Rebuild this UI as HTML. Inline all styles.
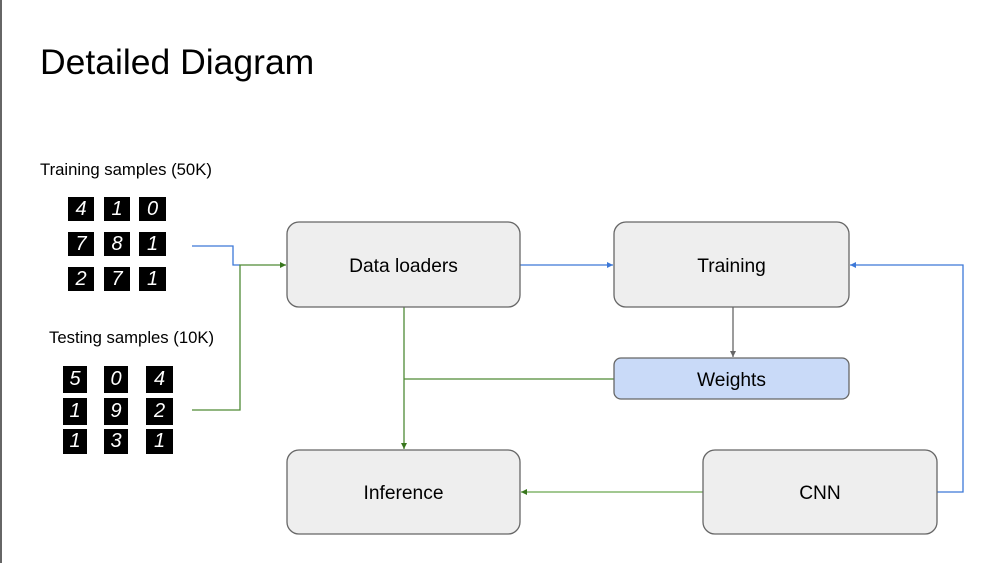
<!DOCTYPE html>
<html><head><meta charset="utf-8"><style>
html,body{margin:0;padding:0;background:#fff;}
body{width:1001px;height:563px;overflow:hidden;position:relative;font-family:"Liberation Sans",sans-serif;}
.t{position:absolute;color:#000;white-space:nowrap;}
.sq{position:absolute;background:#000;color:#fff;font-family:"Liberation Sans",sans-serif;font-style:italic;text-align:center;font-size:20px;}
</style></head><body>
<div style="position:absolute;left:0;top:0;width:2px;height:563px;background:#666"></div>
<div class="t" style="left:40px;top:42px;font-size:35.5px;">Detailed Diagram</div>
<div class="t" style="left:40px;top:160px;font-size:16.7px;">Training samples (50K)</div>
<div class="t" style="left:49px;top:328px;font-size:16.7px;">Testing samples (10K)</div>

<div class="sq" style="left:68px;top:197px;width:26px;height:24px;line-height:24px;">4</div>
<div class="sq" style="left:104px;top:197px;width:26px;height:24px;line-height:24px;">1</div>
<div class="sq" style="left:139px;top:197px;width:27px;height:24px;line-height:24px;">0</div>
<div class="sq" style="left:68px;top:232px;width:26px;height:24px;line-height:24px;">7</div>
<div class="sq" style="left:104px;top:232px;width:26px;height:24px;line-height:24px;">8</div>
<div class="sq" style="left:139px;top:232px;width:27px;height:24px;line-height:24px;">1</div>
<div class="sq" style="left:68px;top:267px;width:26px;height:24px;line-height:24px;">2</div>
<div class="sq" style="left:104px;top:267px;width:26px;height:24px;line-height:24px;">7</div>
<div class="sq" style="left:139px;top:267px;width:27px;height:24px;line-height:24px;">1</div>

<div class="sq" style="left:63px;top:366px;width:24px;height:27px;line-height:27px;">5</div>
<div class="sq" style="left:104px;top:366px;width:24px;height:27px;line-height:27px;">0</div>
<div class="sq" style="left:146px;top:366px;width:27px;height:27px;line-height:27px;">4</div>
<div class="sq" style="left:63px;top:398px;width:24px;height:27px;line-height:27px;">1</div>
<div class="sq" style="left:104px;top:398px;width:24px;height:27px;line-height:27px;">9</div>
<div class="sq" style="left:146px;top:398px;width:27px;height:27px;line-height:27px;">2</div>
<div class="sq" style="left:63px;top:429px;width:24px;height:25px;line-height:25px;">1</div>
<div class="sq" style="left:104px;top:429px;width:24px;height:25px;line-height:25px;">3</div>
<div class="sq" style="left:146px;top:429px;width:27px;height:25px;line-height:25px;">1</div>

<svg width="1001" height="563" style="position:absolute;left:0;top:0" xmlns="http://www.w3.org/2000/svg">
<defs>
<marker id="ab" markerWidth="8" markerHeight="8" refX="6" refY="3" orient="auto" markerUnits="userSpaceOnUse"><path d="M0,0 L6,3 L0,6z" fill="#3c78d8"/></marker>
<marker id="ag" markerWidth="8" markerHeight="8" refX="6" refY="3" orient="auto" markerUnits="userSpaceOnUse"><path d="M0,0 L6,3 L0,6z" fill="#38761d"/></marker>
<marker id="ay" markerWidth="8" markerHeight="8" refX="6" refY="3" orient="auto" markerUnits="userSpaceOnUse"><path d="M0,0 L6,3 L0,6z" fill="#666"/></marker>
</defs>
<g fill="none" stroke-width="1.3">
<polyline points="192,246 233,246 233,265 240,265" stroke="#3c78d8"/>
<polyline points="192,410 240,410 240,265 286,265" stroke="#4f8a35" marker-end="url(#ag)"/>
<line x1="520" y1="265" x2="613" y2="265" stroke="#3c78d8" marker-end="url(#ab)"/>
<line x1="733" y1="307" x2="733" y2="357" stroke="#666" marker-end="url(#ay)"/>
<line x1="404" y1="307" x2="404" y2="449" stroke="#4f8a35" marker-end="url(#ag)"/>
<line x1="614" y1="379" x2="404" y2="379" stroke="#4f8a35"/>
<line x1="703" y1="492" x2="521" y2="492" stroke="#6aa84f" marker-end="url(#ag)"/>
<polyline points="937,492 963,492 963,265 850,265" stroke="#3c78d8" marker-end="url(#ab)"/>
</g>
<g stroke="#666" stroke-width="1.3">
<rect x="287" y="222" width="233" height="85" rx="12" fill="#eeeeee"/>
<rect x="614" y="222" width="235" height="85" rx="12" fill="#eeeeee"/>
<rect x="614" y="358" width="235" height="41" rx="7" fill="#c9daf8"/>
<rect x="287" y="450" width="233" height="84" rx="12" fill="#eeeeee"/>
<rect x="703" y="450" width="234" height="84" rx="12" fill="#eeeeee"/>
</g>
<g font-family="Liberation Sans, sans-serif" font-size="19.2" text-anchor="middle" fill="#000">
<text x="403.5" y="272">Data loaders</text>
<text x="731.5" y="272">Training</text>
<text x="731.5" y="386">Weights</text>
<text x="403.5" y="499">Inference</text>
<text x="820" y="499">CNN</text>
</g>
</svg>
</body></html>
